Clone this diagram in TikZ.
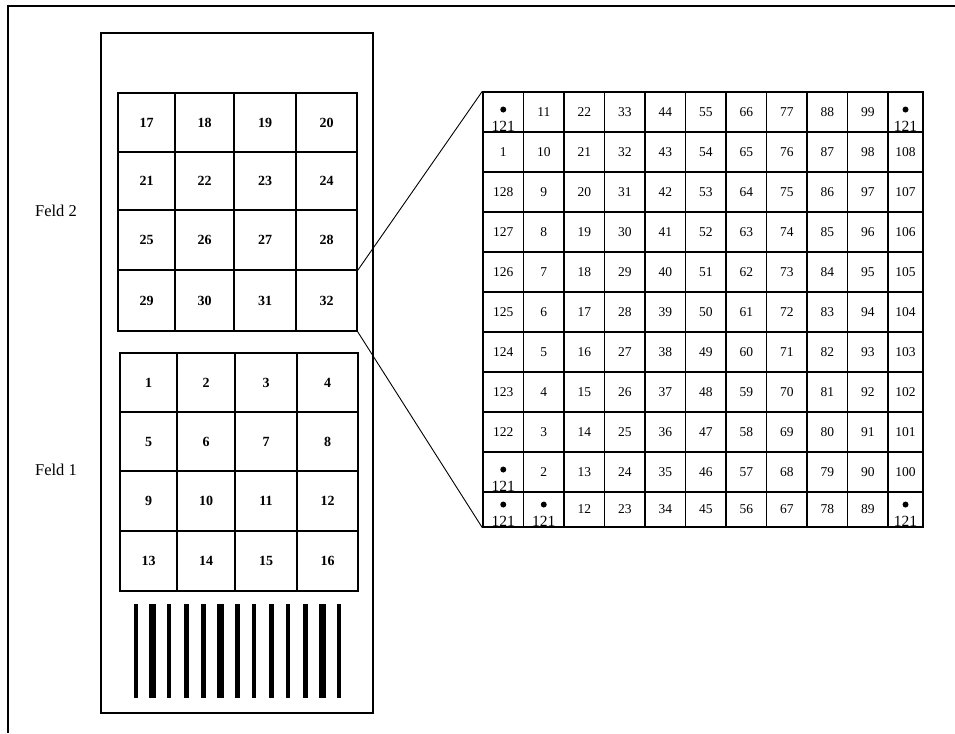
\documentclass[tikz,border=0pt]{standalone}
\usepackage{fontspec}
\setmainfont{Liberation Serif}
\usepackage{tikz}
\usetikzlibrary{positioning}

\begin{document}
\begin{tikzpicture}[
    x=1pt, y=-1pt,
    smallcell/.style={
        rectangle,
        draw=black,
        line width=1.1pt,
        inner sep=0pt,
        font=\fontsize{14}{15}\selectfont\bfseries
    },
    bigcell/.style={
        rectangle,
        draw=black,
        line width=1.4pt,
        inner sep=0pt,
        font=\fontsize{13.5}{14}\selectfont
    },
    dotnum/.style={inner sep=0pt, font=\fontsize{15.5}{16}\selectfont},
    dotmark/.style={circle, fill=black, inner sep=0pt, minimum size=6pt},
    fieldlabel/.style={font=\fontsize{16.5}{18}\selectfont},
    bar/.style={fill=black},
    link/.style={line width=0.9pt}
]
\useasboundingbox (0,0) rectangle (955,733);

% Frame and card
\draw[line width=1.3pt] (8,733) -- (8,6) -- (960,6);
\node (card) [draw, line width=1.1pt, inner sep=0pt,
    minimum width=272pt, minimum height=680pt] at (237,373) {};

% Feld 2
\foreach \xa/\xb [count=\c] in {118/175,175/234,234/296,296/357}
  \foreach \ya/\yb [count=\r] in {93/152,152/210,210/270,270/331} {
    \pgfmathtruncatemacro{\n}{16+4*(\r-1)+\c}
    \pgfmathsetmacro{\w}{\xb-\xa}
    \pgfmathsetmacro{\h}{\yb-\ya}
    \node (f2-\r-\c) [smallcell, minimum width=\w pt, minimum height=\h pt]
        at ({(\xa+\xb)/2},{(\ya+\yb)/2}) {\n};
  }

% Feld 1
\foreach \xa/\xb [count=\c] in {120/177,177/235,235/297,297/358}
  \foreach \ya/\yb [count=\r] in {353/412,412/471,471/531,531/591} {
    \pgfmathtruncatemacro{\n}{4*(\r-1)+\c}
    \pgfmathsetmacro{\w}{\xb-\xa}
    \pgfmathsetmacro{\h}{\yb-\ya}
    \node (f1-\r-\c) [smallcell, minimum width=\w pt, minimum height=\h pt]
        at ({(\xa+\xb)/2},{(\ya+\yb)/2}) {\n};
  }

\node (feld2) [fieldlabel] at (56,211) {Feld 2};
\node (feld1) [fieldlabel] at (56,470) {Feld 1};

% Barcode
\foreach \cx/\bw in {136/4.5,152.5/7,169/4.5,186.5/5,203.5/5,220.5/7,237.5/5,
                      254/4.5,271.5/5,288/4.5,305.5/5,322.5/7,339/4.5}
  \fill[bar] ({\cx-\bw/2},604) rectangle ({\cx+\bw/2},698);

% Enlarged field
\foreach \row [count=\r from 0] in {
    {{},11,22,33,44,55,66,77,88,99,{}},
    {1,10,21,32,43,54,65,76,87,98,108},
    {128,9,20,31,42,53,64,75,86,97,107},
    {127,8,19,30,41,52,63,74,85,96,106},
    {126,7,18,29,40,51,62,73,84,95,105},
    {125,6,17,28,39,50,61,72,83,94,104},
    {124,5,16,27,38,49,60,71,82,93,103},
    {123,4,15,26,37,48,59,70,81,92,102},
    {122,3,14,25,36,47,58,69,80,91,101},
    {{},2,13,24,35,46,57,68,79,90,100},
    {{},{},12,23,34,45,56,67,78,89,{}}} {
  \foreach \v [count=\c from 0] in \row {
    \pgfmathsetmacro{\w}{\c<10 ? 40.5 : 35}
    \pgfmathsetmacro{\h}{\r<10 ? 40 : 35}
    \node (b-\r-\c) [bigcell, minimum width=\w pt, minimum height=\h pt]
        at ({483+40.5*\c+\w/2},{92+40*\r+\h/2}) {\v};
  }
}

% Marked cells
\foreach \r/\c [count=\i] in {0/0,0/10,9/0,10/0,10/1,10/10} {
  \node (d\i) [dotnum, anchor=base] at ([yshift=1.5pt]b-\r-\c.south) {121};
  \node (dm\i) [dotmark, above=8pt of d\i] {};
}

% Zoom lines
\draw [link] (f2-3-4.south east) -- (b-0-0.north west);
\draw [link] (f2-4-4.south east) -- (b-10-0.south west);

\end{tikzpicture}
\end{document}
